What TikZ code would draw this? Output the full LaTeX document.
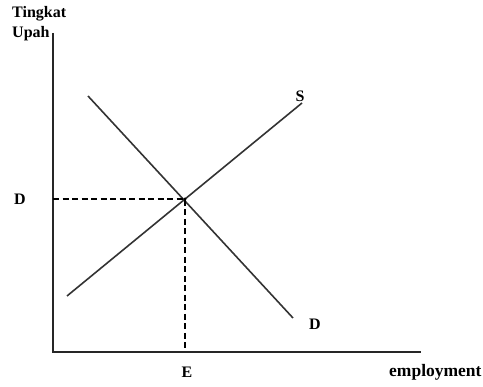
\documentclass[tikz,border=0pt]{standalone}
\usepackage{fontspec}
\setmainfont{Liberation Serif}
\begin{document}
\begin{tikzpicture}[x=1pt,y=-1pt,
  lbl/.style={font=\fontsize{16}{19}\selectfont\bfseries, inner sep=0pt},
  axis/.style={line width=1.6pt, black!85},
  curve/.style={line width=1.6pt, black!80},
  guide/.style={line width=1.2pt, dash pattern=on 6pt off 3.5pt}]
\useasboundingbox (0,0) rectangle (483,387);
% axes
\coordinate (top) at (53,33);
\coordinate (O) at (53,352);
\coordinate (xend) at (421,352);
\draw[axis] (top) -- (O) -- (xend);
% curves
\coordinate (s1) at (67,296);
\coordinate (s2) at (302,103);
\coordinate (d1) at (88,96);
\coordinate (d2) at (293,318);
\coordinate (eq) at (185,199);
\coordinate (eqy) at (53,199);
\coordinate (eqx) at (185,352);
\draw[curve] (s1) -- (s2);
\draw[curve] (d1) -- (d2);
\draw[guide] (eqy) -- (eq) -- (eqx);
\fill (eq) circle (1.6pt);
% labels
\node[lbl, anchor=base west] (tingkat) at (12,18) {Tingkat};
\node[lbl, anchor=base west] (upah) at (12,38) {Upah};
\node[lbl, anchor=base west] (dlab) at (14,205) {D};
\node[lbl, anchor=base] (elab) at (187,378) {E};
\node[lbl, anchor=base west, font=\fontsize{17.5}{20}\selectfont\bfseries] (emp) at (389,377) {employment};
\node[lbl, anchor=base] (slab) at (300,102) {S};
\node[lbl, anchor=base] (dlab2) at (315,330) {D};
\end{tikzpicture}
\end{document}
